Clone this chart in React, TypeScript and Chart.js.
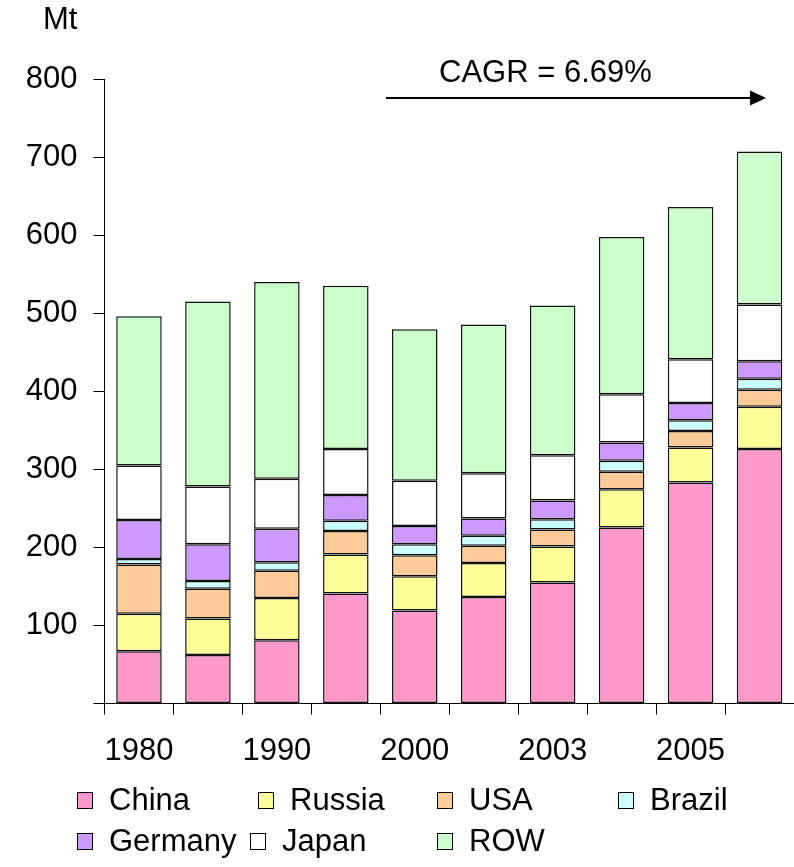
import React, { useEffect, useRef } from "react";
import { Chart, registerables } from "chart.js";

Chart.register(...registerables);

const categories = ["1980", "1985", "1990", "1995", "2000", "2002", "2003", "2004", "2005", "2006"];
const china = [67, 62, 81, 141, 119, 136.5, 155, 225.5, 283, 326];
const russia = [48, 47, 54, 50, 44, 43.5, 46, 49, 45, 54];
const usa = [63, 38, 35, 30, 27, 22, 22, 22.5, 21, 22];
const brazil = [7, 10, 11, 13, 14, 13, 13, 14, 14, 14];
const germany = [50, 47, 43, 33, 23.5, 22, 24, 23.5, 22, 22.5];
const japan = [70, 74, 64, 59, 58, 58, 58, 61.5, 56, 72.5];
const row = [191, 237, 252, 209, 194, 190.5, 192, 201.5, 195, 196];
const yTicks = [0, 100, 200, 300, 400, 500, 600, 700, 800];

const seriesNames = ["China", "Russia", "USA", "Brazil", "Germany", "Japan", "ROW"];
const seriesValues = [china, russia, usa, brazil, germany, japan, row];
const seriesColors = ["#FF99CC", "#FFFF99", "#FFCC99", "#CCFFFF", "#CC99FF", "#FFFFFF", "#CCFFCC"];

const unitLabel = "Mt";
const cagrLabel = "CAGR = 6.69%";

const FONT = "'Liberation Sans', Arial, sans-serif";
const FS = 31;

// legend layout (pixel positions of each item's box: [x, y])
const legendPos: [number, number][] = [
  [77, 792], [258, 792], [437, 792], [618, 792],
  [77, 833], [250, 833], [437, 833],
];

const overlayPlugin = {
  id: "overlay",
  afterDraw(chart: any) {
    const ctx = chart.ctx;
    ctx.save();
    ctx.fillStyle = "#000";
    ctx.font = `${FS}px ${FONT}`;
    ctx.textBaseline = "alphabetic";
    ctx.textAlign = "left";
    // unit label
    ctx.fillText(unitLabel, 43, 29);
    // CAGR text + arrow
    ctx.fillText(cagrLabel, 439, 82);
    const y = 98;
    ctx.strokeStyle = "#000";
    ctx.lineWidth = 2;
    ctx.beginPath();
    ctx.moveTo(386, y);
    ctx.lineTo(752, y);
    ctx.stroke();
    ctx.beginPath();
    ctx.moveTo(750, y - 7.5);
    ctx.lineTo(766, y);
    ctx.lineTo(750, y + 7.5);
    ctx.closePath();
    ctx.fill();
    // legend
    chart.data.datasets.forEach((ds: any, i: number) => {
      const [bx, by] = legendPos[i];
      ctx.fillStyle = ds.backgroundColor;
      ctx.fillRect(bx, by, 15, 16);
      ctx.strokeStyle = "#000";
      ctx.lineWidth = 1;
      ctx.strokeRect(bx + 0.5, by + 0.5, 15, 16);
      ctx.fillStyle = "#000";
      ctx.textBaseline = "middle";
      ctx.fillText(ds.label, bx + 32, by + 9);
    });
    ctx.restore();
  },
};

export default function App() {
  const ref = useRef<HTMLCanvasElement | null>(null);
  useEffect(() => {
    if (!ref.current) return;
    Chart.defaults.font.family = FONT;
    Chart.defaults.font.size = FS;
    Chart.defaults.color = "#000";
    const chart = new Chart(ref.current, {
      type: "bar",
      data: {
        labels: categories,
        datasets: seriesNames.map((name, i) => ({
          label: name,
          data: seriesValues[i],
          backgroundColor: seriesColors[i],
          borderColor: "#111",
          borderWidth: 1.5,
          borderSkipped: false,
          categoryPercentage: 1,
          barPercentage: 0.66,
        })),
      },
      options: {
        responsive: false,
        animation: false,
        layout: { padding: { top: 79, left: 0, right: 0, bottom: 0 } },
        plugins: { legend: { display: false }, tooltip: { enabled: false } },
        scales: {
          x: {
            stacked: true,
            offset: true,
            grid: { drawOnChartArea: false, drawTicks: true, tickLength: 11, color: "#000", offset: true },
            border: { color: "#000", width: 1 },
            ticks: {
              autoSkip: false,
              maxRotation: 0,
              padding: 18,
              font: { size: FS, family: FONT },
              callback: (_v: any, idx: number) => (idx % 2 === 0 ? categories[idx] : ""),
            },
            afterFit: (s: any) => { s.height = 163.5; },
          },
          y: {
            stacked: true,
            min: 0,
            max: 800,
            afterBuildTicks: (s: any) => { s.ticks = yTicks.map((v) => ({ value: v })); },
            grid: { drawOnChartArea: false, drawTicks: true, tickLength: 11, color: "#000" },
            border: { color: "#000", width: 1 },
            ticks: {
              padding: 16,
              font: { size: FS, family: FONT },
              callback: (v: any) => (v === 0 ? "" : String(v)),
            },
            afterFit: (s: any) => { s.width = 104.5; },
          },
        },
      },
      plugins: [overlayPlugin],
    });
    return () => chart.destroy();
  }, []);
  return (
    <div style={{ position: "fixed", left: 0, top: 0, width: 794, height: 867, background: "#fff" }}>
      <canvas ref={ref} width={794} height={867} />
    </div>
  );
}
